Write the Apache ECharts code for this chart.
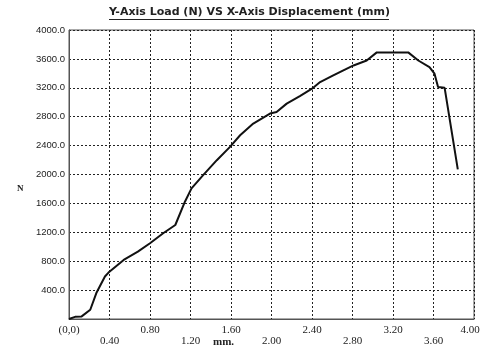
<!DOCTYPE html>
<html>
<head>
<meta charset="utf-8">
<script src="https://cdn.jsdelivr.net/npm/echarts@6/dist/echarts.min.js"></script>
<style>html,body{margin:0;padding:0;background:#fff;}#c{width:481px;height:345px;}</style>
</head>
<body>
<div id="c"></div>
<script>
var displacement = [0.00,0.06,0.125,0.21,0.27,0.355,0.39,0.54,0.68,0.80,0.93,1.05,1.145,1.21,1.325,1.46,1.59,1.69,1.82,1.985,2.05,2.15,2.28,2.40,2.48,2.61,2.71,2.81,2.94,3.04,3.35,3.45,3.56,3.61,3.645,3.71,3.84];
var load = [0,30,36,128,359,588,643,818,933,1049,1187,1301,1623,1808,1991,2198,2382,2543,2705,2843,2865,2981,3085,3188,3279,3371,3440,3509,3578,3690,3690,3578,3486,3395,3210,3200,2070];
var titleText = 'Y-Axis Load (N) VS X-Axis Displacement (mm)';
var xName = 'mm.';
var yName = 'N';

var points = displacement.map(function(d, i){ return [d, load[i]]; });
var chart = echarts.init(document.getElementById('c'), null, {renderer:'canvas'});
var dotted = {color:'#222', width:1, type:[2,2]};
chart.setOption({
  animation:false,
  backgroundColor:'#fff',
  grid:{left:69, right:7, top:30, bottom:26, containLabel:false, outerBoundsMode:'none',
        show:true, borderColor:'#555', borderWidth:1, backgroundColor:'transparent'},
  xAxis:{
    type:'value', min:0, max:4, interval:0.4,
    axisLine:{show:true, lineStyle:{color:'#555', width:1}},
    axisTick:{show:false},
    splitLine:{show:true, lineStyle:dotted},
    axisLabel:{
      margin:6, color:'#222', fontFamily:'Liberation Serif', fontSize:11, lineHeight:11,
      showMaxLabel:true, showMinLabel:true, hideOverlap:false,
      rich:{ r:{ fontFamily:'Liberation Serif', fontSize:11, lineHeight:11, color:'#222', padding:[0,8,0,0] } },
      formatter:function(v, i){
        var s = (v === 0) ? '(0,0)' : v.toFixed(2);
        var idx = Math.round(v / 0.4);
        if (idx === 10) return '{r|' + s + '}';
        return idx % 2 === 1 ? '\n' + s : s;
      }
    }
  },
  yAxis:{
    type:'value', min:0, max:4000, interval:400,
    axisLine:{show:true, lineStyle:{color:'#555', width:1}},
    axisTick:{show:false},
    splitLine:{show:true, lineStyle:dotted},
    axisLabel:{
      margin:4, color:'#222', fontFamily:'Liberation Sans', fontSize:9.5,
      formatter:function(v){ return v === 0 ? '' : v.toFixed(1); }
    }
  },
  graphic:[
    {type:'text', left:109, top:7, style:{text:titleText, font:'bold 11px "DejaVu Sans"', fill:'#222'}},
    {type:'line', shape:{x1:109, y1:19.5, x2:389, y2:19.5}, style:{stroke:'#222', lineWidth:1}},
    {type:'text', left:213, top:337, style:{text:xName, font:'bold 11px "Liberation Serif"', fill:'#222'}},
    {type:'text', left:17, top:184, style:{text:yName, font:'bold 9px "Liberation Serif"', fill:'#222'}}
  ],
  series:[{
    type:'line', data:points, showSymbol:false, symbol:'none',
    lineStyle:{color:'#111', width:2}, silent:true
  }]
});
</script>
</body>
</html>
